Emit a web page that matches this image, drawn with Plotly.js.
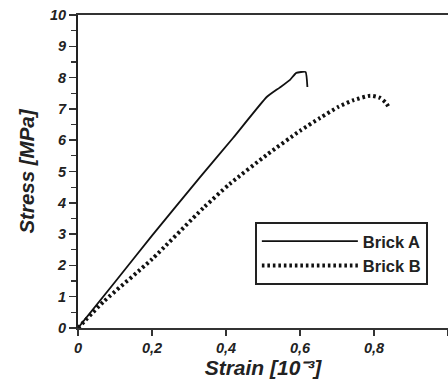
<!DOCTYPE html>
<html>
<head>
<meta charset="utf-8">
<script src="https://cdn.plot.ly/plotly-3.0.1.min.js"></script>
<style>html,body{margin:0;padding:0;background:#fff;}#chart{width:448px;height:379px;}</style>
</head>
<body>
<div id="chart"></div>
<script>
// Brick A (solid line)
var strainA = [0, 0.1, 0.2, 0.33, 0.419, 0.51, 0.545, 0.573, 0.59, 0.615, 0.62];
var stressA = [0, 1.47, 2.95, 4.82, 6.07, 7.38, 7.68, 7.93, 8.15, 8.18, 7.7];
// Brick B (dotted line)
var strainB = [0, 0.07, 0.2, 0.34, 0.41, 0.51, 0.6, 0.654, 0.703, 0.745, 0.79, 0.815, 0.832, 0.84];
var stressB = [0, 0.85, 2.2, 3.85, 4.6, 5.53, 6.3, 6.71, 7.06, 7.28, 7.42, 7.36, 7.2, 7.05];
var xTicks = [0, 0.2, 0.4, 0.6, 0.8, 1];
var yTicks = [0, 1, 2, 3, 4, 5, 6, 7, 8, 9, 10];
var names = ['Brick A', 'Brick B'];

var FONT = 'Liberation Sans, Arial, sans-serif';
var traces = [
  {x: strainA, y: stressA, name: names[0], mode: 'lines', line: {color: '#111', width: 1.8, shape: 'spline', smoothing: 0.4}},
  {x: strainB, y: stressB, name: names[1], mode: 'lines', line: {color: '#111', width: 4, dash: '2.6px,2.9px', shape: 'spline', smoothing: 0.6}}
];
var layout = {
  width: 448, height: 379,
  margin: {l: 78, r: 0, t: 15, b: 51},
  separators: ',.',
  paper_bgcolor: '#fff', plot_bgcolor: '#fff',
  showlegend: true,
  legend: {x: 0.478, y: 0.339, xanchor: 'left', yanchor: 'top', bordercolor: '#222', borderwidth: 2,
           bgcolor: '#fff', itemwidth: 96, font: {family: FONT, size: 16.5, weight: 'bold', color: '#222'}},
  xaxis: {range: [0, 1], tickvals: xTicks, ticks: 'outside', ticklen: 6, tickwidth: 1.5, tickcolor: '#333',
          showline: true, linecolor: '#333', linewidth: 2, mirror: true, showgrid: false, zeroline: false,
          tickfont: {family: FONT, size: 14.5, weight: 'bold', style: 'italic', color: '#222'},
          title: {text: 'Strain [10\u207B\u00B3]', standoff: 4, font: {family: FONT, size: 21, weight: 'bold', style: 'italic', color: '#222'}}},
  yaxis: {range: [0, 10], tickvals: yTicks, ticks: 'outside', ticklen: 7, tickwidth: 1.5, tickcolor: '#333',
          minor: {dtick: 0.5, ticks: 'outside', ticklen: 5, tickwidth: 1.2, tickcolor: '#333', showgrid: false},
          showline: true, linecolor: '#222', linewidth: 2, mirror: true, showgrid: false, zeroline: false,
          tickfont: {family: FONT, size: 14.5, weight: 'bold', style: 'italic', color: '#222'},
          title: {text: 'Stress [MPa]', standoff: 10, font: {family: FONT, size: 20.5, weight: 'bold', style: 'italic', color: '#222'}}}
};
Plotly.newPlot('chart', traces, layout, {staticPlot: true, displayModeBar: false});
</script>
</body>
</html>
